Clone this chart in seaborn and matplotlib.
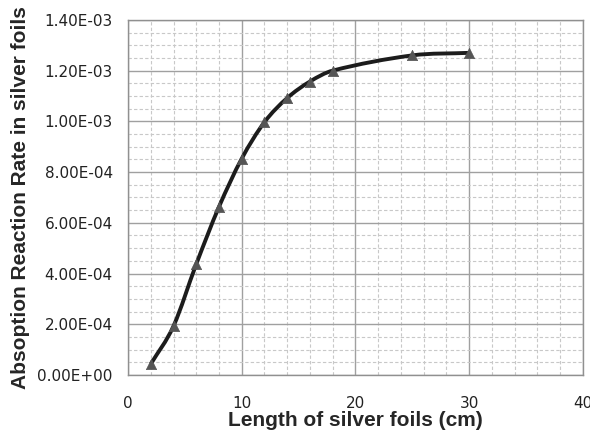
import numpy as np
import pandas as pd
import matplotlib
matplotlib.use("Agg")
import matplotlib.pyplot as plt
from matplotlib.path import Path
from matplotlib.patches import PathPatch
from matplotlib.ticker import MultipleLocator, FuncFormatter
import seaborn as sns

# values
length_cm = [2, 4, 6, 8, 10, 12, 14, 16, 18, 25, 30]
reaction_rate = [4.3e-5, 1.93e-4, 4.37e-4, 6.63e-4, 8.53e-4, 9.97e-4,
                 1.092e-3, 1.157e-3, 1.20e-3, 1.26e-3, 1.27e-3]

data = pd.DataFrame({"length": length_cm, "rate": reaction_rate})

sns.set_style("white")
plt.rcParams['font.family'] = ['DejaVu Sans']

fig = plt.figure(figsize=(5.9, 4.32), dpi=100)
ax = fig.add_axes([0.217, 0.132, 0.771, 0.822])

# smoothed line (cubic hermite in x, drawn as bezier segments)
x = np.array(length_cm, dtype=float)
y = np.array(reaction_rate, dtype=float)
n = len(x)
slope = np.zeros(n)
for i in range(n):
    lo, hi = max(i - 1, 0), min(i + 1, n - 1)
    slope[i] = (y[hi] - y[lo]) / (x[hi] - x[lo])
verts = [(x[0], y[0])]
codes = [Path.MOVETO]
for i in range(n - 1):
    h = (x[i + 1] - x[i]) / 3.0
    verts += [(x[i] + h, y[i] + slope[i] * h),
              (x[i + 1] - h, y[i + 1] - slope[i + 1] * h),
              (x[i + 1], y[i + 1])]
    codes += [Path.CURVE4] * 3
ax.add_patch(PathPatch(Path(verts, codes), facecolor="none",
                       edgecolor="#1c1c1c", lw=2.8, zorder=3))

sns.scatterplot(data=data, x="length", y="rate", marker="^", s=55,
                color="#555555", edgecolor="#555555", linewidth=0.5,
                zorder=4, ax=ax)

ax.set_xlim(0, 40)
ax.set_ylim(0, 1.4e-3)
ax.xaxis.set_major_locator(MultipleLocator(10))
ax.xaxis.set_minor_locator(MultipleLocator(2))
ax.yaxis.set_major_locator(MultipleLocator(2e-4))
ax.yaxis.set_minor_locator(MultipleLocator(5e-5))
ax.yaxis.set_major_formatter(FuncFormatter(lambda v, pos: "%.2E" % v))

ax.grid(which="major", color="#a0a0a0", lw=1.0, ls="-")
ax.grid(which="minor", color="#c8c8c8", lw=0.8, ls=(0, (3, 2)))
ax.set_axisbelow(True)

for sp in ax.spines.values():
    sp.set_color("#909090")
    sp.set_linewidth(1.0)

ax.tick_params(which="major", direction="out", length=5, width=1,
               color="#909090", labelsize=11, labelcolor="#222222", pad=6)
ax.tick_params(which="minor", length=0)
ax.tick_params(axis="x", pad=10)

ax.set_xlabel("Length of silver foils (cm)", fontsize=15, fontweight="bold",
              family="Liberation Sans", labelpad=0)
ax.set_ylabel("Absoption Reaction Rate in silver foils", fontsize=15,
              fontweight="bold", family="Liberation Sans", labelpad=5)

fig.savefig("out.png", dpi=100)
